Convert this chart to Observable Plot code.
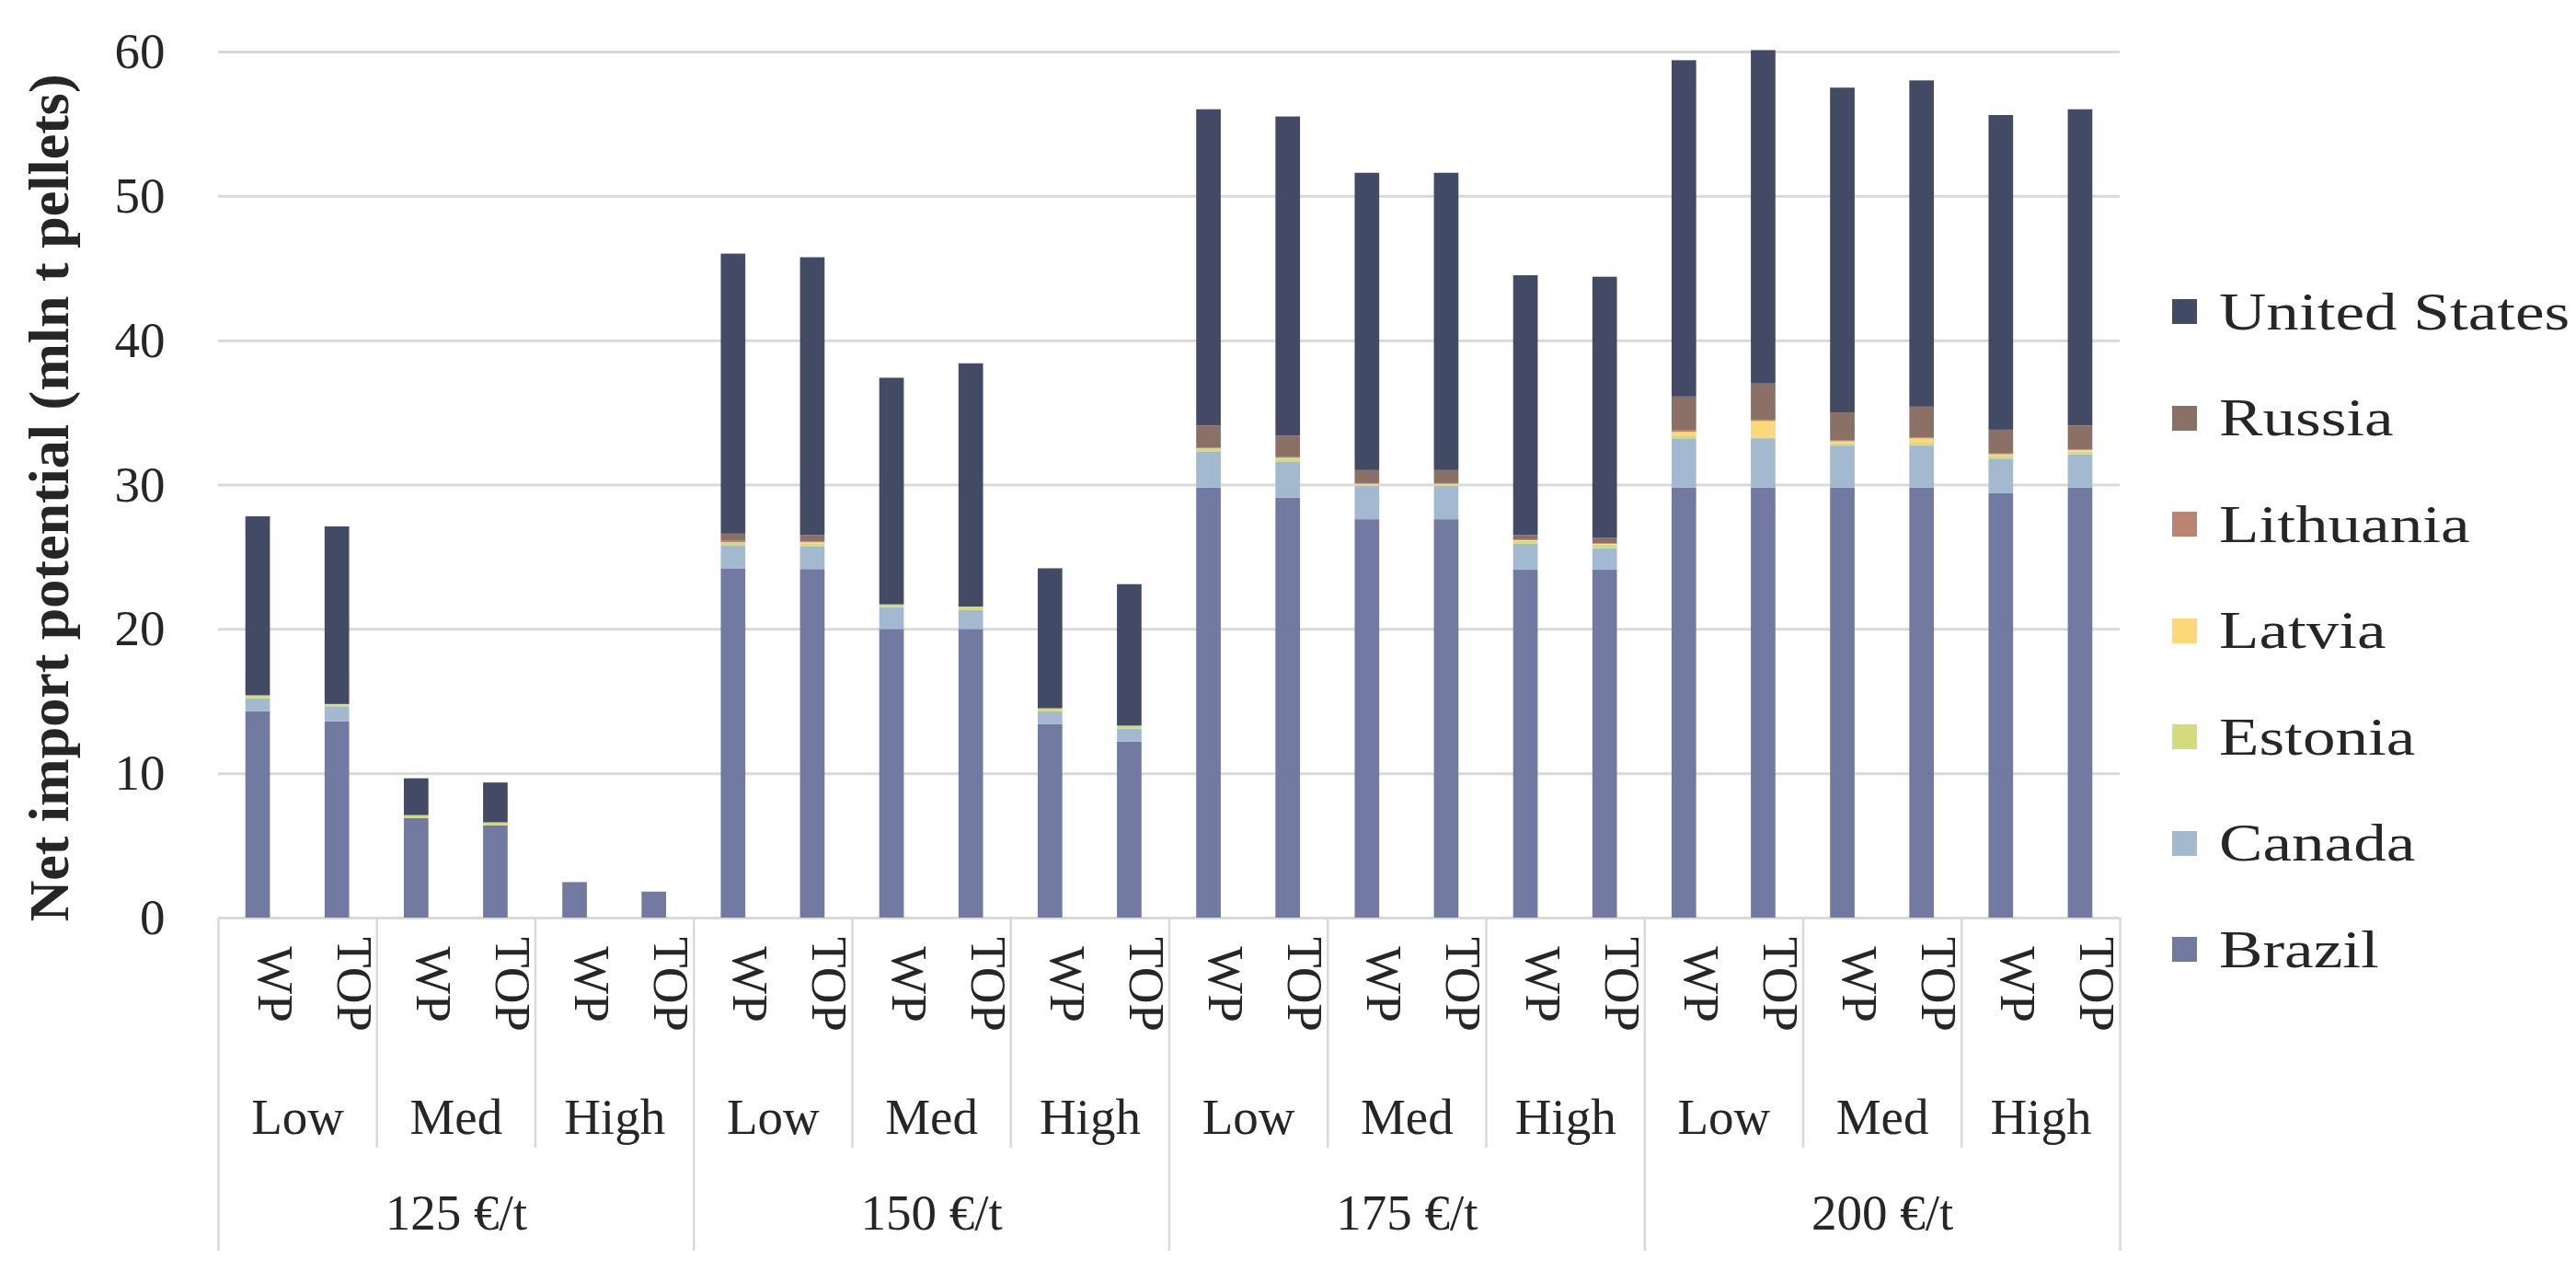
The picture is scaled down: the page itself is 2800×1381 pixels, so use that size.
<!DOCTYPE html>
<html>
<head>
<meta charset="utf-8">
<script src="https://cdn.jsdelivr.net/npm/d3@7"></script>
<script src="https://cdn.jsdelivr.net/npm/@observablehq/plot@0.6"></script>
<style>
html, body { margin: 0; padding: 0; background: #fff; }
#wrap { position: relative; width: 2800px; height: 1381px; overflow: hidden; background: #fff; }
#chart { position: absolute; left: 0; top: 0; }
#legend { position: absolute; left: 2361px; top: 281px; font-family: "Liberation Serif"; font-size: 56px; color: #262626; }
.item { display: flex; align-items: center; height: 115.5px; white-space: nowrap; }
.sw { width: 27px; height: 27px; margin-right: 24px; flex: none; }
.lt { display: inline-block; transform: scaleX(1.27); transform-origin: left center; }
</style>
</head>
<body>
<div id="wrap"><div id="chart"></div><div id="legend"></div></div>
<script>
// ---- data ----
const prices = ["125 €/t", "150 €/t", "175 €/t", "200 €/t"];
const scenarios = ["Low", "Med", "High"];
const types = ["WP", "TOP"];
const yTicks = [0, 10, 20, 30, 40, 50, 60];
const yTitle = "Net import potential (mln t pellets)";

// stacking order, bottom to top
const seriesNames = ["Brazil", "Canada", "Estonia", "Latvia", "Lithuania", "Russia", "United States"];
const seriesColors = ["#727aa1", "#a2b9cf", "#d4db7b", "#fbd878", "#b98472", "#8b7065", "#424a65"];

// 24 bars: price -> scenario -> WP, TOP
const brazil       = [14.3, 13.6, 6.9, 6.4, 2.46, 1.8,  24.2, 24.15, 20.0, 20.0, 13.4, 12.2,  29.8, 29.1, 27.6, 27.6, 24.1, 24.1,  29.8, 29.8, 29.8, 29.8, 29.4, 29.8];
const canada       = [0.9, 1.0, 0, 0, 0, 0,  1.6, 1.55, 1.5, 1.3, 0.9, 0.9,  2.5, 2.5, 2.3, 2.3, 1.8, 1.5,  3.4, 3.4, 2.9, 2.9, 2.4, 2.3];
const estonia      = [0.2, 0.2, 0.2, 0.2, 0, 0,  0.15, 0.2, 0.2, 0.25, 0.2, 0.2,  0.15, 0.2, 0.1, 0.1, 0.2, 0.25,  0.2, 0.1, 0.15, 0.2, 0.2, 0.2];
const latvia       = [0, 0, 0, 0, 0, 0,  0.05, 0.1, 0, 0, 0, 0,  0.05, 0.05, 0.05, 0.05, 0.05, 0.05,  0.25, 1.1, 0.15, 0.3, 0.1, 0.1];
const lithuania    = [0, 0, 0, 0, 0, 0,  0.1, 0.05, 0, 0, 0, 0,  0.05, 0.05, 0.05, 0.05, 0.05, 0.05,  0.1, 0.1, 0.05, 0.05, 0.05, 0.05];
const russia       = [0, 0, 0, 0, 0, 0,  0.5, 0.45, 0, 0, 0, 0,  1.55, 1.5, 0.9, 0.9, 0.3, 0.35,  2.35, 2.5, 1.95, 2.15, 1.65, 1.65];
const unitedStates = [12.4, 12.3, 2.55, 2.76, 0, 0,  19.4, 19.25, 15.7, 16.85, 9.7, 9.8,  21.9, 22.1, 20.6, 20.6, 18.0, 18.1,  23.3, 23.1, 22.5, 22.6, 21.8, 21.9];
const seriesValues = [brazil, canada, estonia, latvia, lithuania, russia, unitedStates];

// ---- derived tables ----
const bars = [];
for (const p of prices) for (const s of scenarios) for (const t of types) bars.push({key: `${p}|${s}|${t}`, price: p, scenario: s, type: t});
const keys = bars.map(b => b.key);
const long = [];
bars.forEach((b, i) => seriesNames.forEach((n, j) => long.push({key: b.key, series: n, value: seriesValues[j][i]})));
const pairs = [];
for (const p of prices) for (const s of scenarios) pairs.push({price: p, scenario: s, wpKey: `${p}|${s}|WP`});
const pairInner = pairs.filter(d => d.scenario !== scenarios[0]);
const groupStarts = prices.map(p => ({price: p, wpKey: `${p}|${scenarios[0]}|WP`, medKey: `${p}|${scenarios[1]}|WP`}));
const lastKey = [keys[keys.length - 1]];

// ---- layout ----
const W = 2340, H = 1381, ML = 237, MR = 36, MT = 56, MB = 384;
const frameH = H - MT - MB;
const xOpts = {type: "band", domain: keys, paddingInner: 0.69, paddingOuter: 0.345, round: false};
const xs = Plot.scale({x: {...xOpts, range: [ML, W - MR]}});
const step = xs.step ?? (W - ML - MR) / keys.length;
const ink = "#262626";
const fs = 55;
const lineColor = "#d9d9d9";

const chart = Plot.plot({
  width: W, height: H,
  marginLeft: ML, marginRight: MR, marginTop: MT, marginBottom: MB,
  style: {fontFamily: "Liberation Serif", color: ink, background: "#fff", overflow: "visible"},
  x: {...xOpts, axis: null},
  y: {domain: [0, 60], axis: null},
  color: {domain: seriesNames, range: seriesColors},
  marks: [
    Plot.ruleY(yTicks, {stroke: lineColor, strokeWidth: 3}),
    Plot.barY(long, {x: "key", y: "value", fill: "series", order: seriesNames}),
    Plot.axisY({ticks: yTicks, tickSize: 0, tickPadding: 58, fontSize: fs, label: null, fill: ink}),
    Plot.text([yTitle], {text: d => d, frameAnchor: "left", textAnchor: "middle", lineAnchor: "middle", dx: -183, dy: 14, rotate: -90, fontSize: 62, fontWeight: "bold", fill: ink}),
    // category table lines
    Plot.ruleX(pairInner, {x: "wpKey", dx: -step / 2, insetTop: frameH, insetBottom: -250, stroke: lineColor, strokeWidth: 2.5}),
    Plot.ruleX(groupStarts, {x: "wpKey", dx: -step / 2, insetTop: frameH, insetBottom: -362, stroke: lineColor, strokeWidth: 2.5}),
    Plot.ruleX(lastKey, {x: d => d, dx: step / 2, insetTop: frameH, insetBottom: -362, stroke: lineColor, strokeWidth: 2.5}),
    // category labels
    Plot.text(bars, {x: "key", text: "type", frameAnchor: "bottom", dy: 72, rotate: 90, fontSize: fs, fill: ink}),
    Plot.text(pairs, {x: "wpKey", text: "scenario", frameAnchor: "bottom", dx: step / 2, dy: 234, fontSize: fs, fill: ink}),
    Plot.text(groupStarts, {x: "medKey", text: "price", frameAnchor: "bottom", dx: step / 2, dy: 338, fontSize: fs, fill: ink})
  ]
});
document.getElementById("chart").appendChild(chart);

// legend (top to bottom as in the reference)
const legend = document.getElementById("legend");
seriesNames.map((n, i) => ({n, c: seriesColors[i]})).reverse().forEach(({n, c}) => {
  const it = document.createElement("div");
  it.className = "item";
  const sw = document.createElement("div");
  sw.className = "sw";
  sw.style.background = c;
  const tx = document.createElement("span");
  tx.className = "lt";
  tx.textContent = n;
  it.appendChild(sw); it.appendChild(tx);
  legend.appendChild(it);
});
</script>
</body>
</html>
